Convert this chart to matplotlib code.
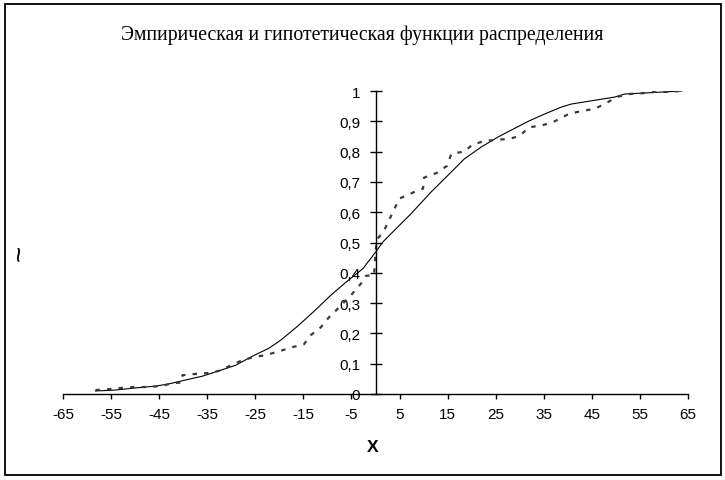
"""
Empirical vs hypothetical distribution function plot.
"""
import matplotlib
matplotlib.use("Agg")
from matplotlib import pyplot as plt
from matplotlib.patches import Rectangle
from matplotlib.ticker import FuncFormatter

# hypothetical (theoretical) distribution function
theor_x = [-58.3, -54.2, -50.0, -45.8, -43.1, -39.6, -36.0, -32.7, -29.1, -25.6,
           -22.2, -19.7, -16.2, -12.8, -9.3, -5.7, -2.6, 0.1, 1.6, 4.3,
           7.4, 11.6, 15.8, 18.5, 22.0, 25.6, 31.8, 35.2, 38.7, 40.8,
           49.8, 51.9, 63.8]
theor_y = [0.010, 0.013, 0.020, 0.026, 0.033, 0.046, 0.059, 0.076, 0.095, 0.125,
           0.151, 0.178, 0.224, 0.273, 0.326, 0.375, 0.414, 0.470, 0.503, 0.546,
           0.595, 0.667, 0.733, 0.776, 0.815, 0.849, 0.900, 0.924, 0.947, 0.957,
           0.980, 0.990, 1.000]

# empirical distribution function
emp_x = [-58.3, -55.6, -52.9, -50.2, -47.5, -44.8, -42.0, -40.4, -40.2, -37.7,
         -35.0, -32.7, -30.4, -28.1, -25.4, -22.9, -20.1, -17.2, -14.9, -13.5,
         -11.4, -9.7, -8.2, -5.1, -3.0, -2.0, -0.3, 0.2, 0.5, 1.8,
         3.0, 3.9, 5.0, 7.8, 9.9, 10.1, 12.8, 14.9, 15.8, 18.5,
         20.1, 22.6, 25.2, 27.9, 30.0, 32.0, 35.0, 37.3, 40.2, 42.9,
         45.6, 47.7, 50.2, 52.7, 55.8, 58.1, 61.0, 63.4]
emp_y = [0.013, 0.016, 0.020, 0.023, 0.023, 0.026, 0.036, 0.038, 0.062, 0.066,
         0.069, 0.076, 0.092, 0.109, 0.122, 0.128, 0.141, 0.155, 0.164, 0.194,
         0.220, 0.253, 0.276, 0.326, 0.365, 0.390, 0.392, 0.505, 0.513, 0.540,
         0.580, 0.610, 0.645, 0.665, 0.678, 0.714, 0.730, 0.753, 0.793, 0.800,
         0.822, 0.835, 0.839, 0.842, 0.852, 0.880, 0.888, 0.900, 0.924, 0.934,
         0.941, 0.957, 0.980, 0.990, 0.993, 0.997, 0.997, 1.000]

x_ticks = list(range(-65, 66, 10))
y_ticks = [i / 10 for i in range(0, 11)]

title = "Эмпирическая и гипотетическая функции распределения"


def comma_fmt(v, pos):
    if abs(v) < 1e-9:
        return "0"
    if abs(v - 1) < 1e-9:
        return "1"
    return "{:.1f}".format(v).replace(".", ",")


plt.rcParams.update({
    'font.family': ['Liberation Sans', 'DejaVu Sans'],
    'font.size': 10,
    'axes.unicode_minus': False,
})

fig = plt.figure(figsize=(7.25, 4.81), dpi=100)
fig.patches.append(Rectangle((5 / 725, 1 - 476 / 481), 716 / 725, 471 / 481,
                             transform=fig.transFigure, fill=False,
                             edgecolor='black', linewidth=1.3))

ax = fig.add_axes([63.3 / 725, 1 - 395 / 481, 624.4 / 725, 303 / 481])
ax.plot(theor_x, theor_y, color='black', linewidth=0.8)
ax.plot(emp_x, emp_y, color='#3a3a3a', linewidth=1.6, dashes=(2, 3.2))

ax.set_xlim(-65, 65)
ax.set_ylim(0, 1)
ax.set_xticks(x_ticks)
ax.set_yticks(y_ticks)
ax.yaxis.set_major_formatter(FuncFormatter(comma_fmt))

ax.spines['top'].set_visible(False)
ax.spines['right'].set_visible(False)
ax.spines['left'].set_position(('data', 0))
ax.spines['left'].set_linewidth(1.0)
ax.spines['bottom'].set_linewidth(1.0)

ax.tick_params(axis='x', direction='out', length=3.6, width=1.0, pad=6,
               labelsize=11)
ax.tick_params(axis='y', direction='inout', length=8, width=1.0, pad=7,
               labelsize=11)
ax.patch.set_visible(False)

fig.text(362 / 725, 1 - 35 / 481, title, ha='center', va='center',
         family='Liberation Serif', fontsize=14.2)
fig.text(373 / 725, 1 - 448 / 481, "X", ha='center', va='center',
         fontsize=12.5, fontweight='bold')
fig.text(21 / 725, 1 - 253 / 481, "~", ha='center', va='center',
         fontsize=20, rotation=90)

fig.savefig("out.png", dpi=100)
